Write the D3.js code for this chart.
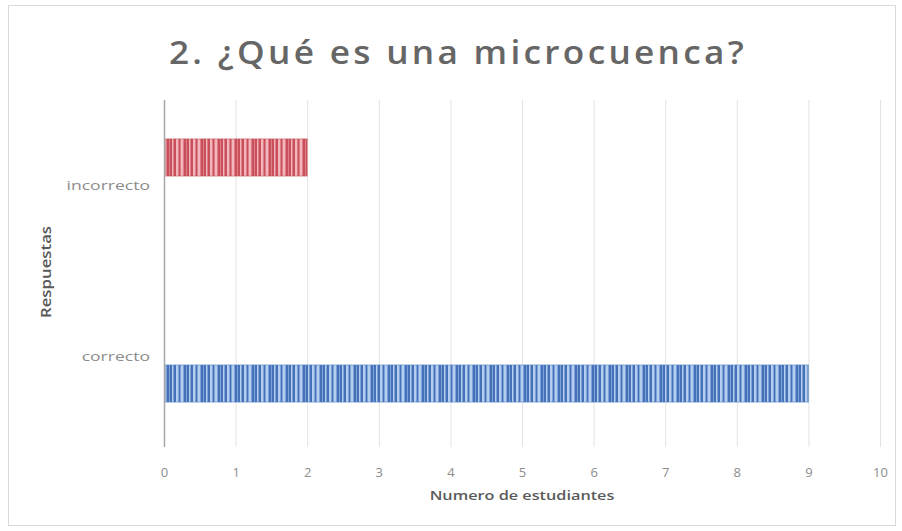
<!DOCTYPE html>
<html><head><meta charset="utf-8">
<script src="https://cdn.jsdelivr.net/npm/d3@7"></script>
<style>body{margin:0;background:#fff;} svg{display:block;}</style>
</head><body>
<svg id="chart" width="902" height="531"></svg>
<script>
const title = "2. ¿Qué es una microcuenca?";
const categories = ["incorrecto", "correcto"];
const seriesNames = ["incorrecto", "correcto"];
const valuesIncorrecto = [2, 0];
const valuesCorrecto = [0, 9];
const xTicks = [0,1,2,3,4,5,6,7,8,9,10];
const xTitle = "Numero de estudiantes";
const yTitle = "Respuestas";

const svg = d3.select("#chart");
const W = 902, H = 531;
const m = {left:164, right:22, top:100, bottom:90};
const FONT = "Open Sans, sans-serif";

svg.append("rect").attr("x",8.5).attr("y",5.5).attr("width",887).attr("height",520)
  .attr("fill","#fff").attr("stroke","#d9d9d9");

const defs = svg.append("defs");
function stripes(id, light, dark, mid) {
  const p = defs.append("pattern").attr("id",id).attr("patternUnits","userSpaceOnUse")
    .attr("width",17).attr("height",10);
  p.append("rect").attr("width",17).attr("height",10).attr("fill",mid);
  const s = [[0,2,dark],[2,1,light],[4,2,dark],[6,2,light],[9,1,dark],[11,2,light],[14,2,dark]];
  s.forEach(([x,w,c]) => p.append("rect").attr("x",x).attr("width",w).attr("height",10).attr("fill",c));
}
stripes("pRed", "#f2b7bc", "#c94f5b", "#de7e88");
stripes("pBlue", "#b5cdef", "#4571b8", "#7ea3d8");

const x = d3.scaleLinear().domain([0,10]).range([m.left, W - m.right]);
const y = d3.scaleBand().domain(categories).range([m.top, H - m.bottom]);
const yInner = d3.scaleBand().domain(seriesNames).range([0, y.bandwidth()]).paddingInner(0.33).paddingOuter(0.7);

// gridlines
svg.append("g").selectAll("line").data(xTicks.slice(1)).join("line")
  .attr("x1", d => x(d)+0.5).attr("x2", d => x(d)+0.5)
  .attr("y1", m.top).attr("y2", H - m.bottom + 6)
  .attr("stroke","#e3e3e3").attr("stroke-width",1);

const series = [
  {name:"incorrecto", values: valuesIncorrecto, fill:"url(#pRed)", stroke:"#c0504d"},
  {name:"correcto", values: valuesCorrecto, fill:"url(#pBlue)", stroke:"#4f81bd"}
];
series.forEach(s => {
  svg.append("g").selectAll("rect").data(categories.map((c,i)=>({c, v:s.values[i]})).filter(d=>d.v>0)).join("rect")
    .attr("x", x(0)+1).attr("y", d => y(d.c) + yInner(s.name))
    .attr("width", d => x(d.v) - x(0) - 1).attr("height", yInner.bandwidth())
    .attr("fill", s.fill).attr("stroke", s.stroke).attr("stroke-opacity",0.5);
});

// y axis line
svg.append("line").attr("x1", x(0)+0.5).attr("x2", x(0)+0.5).attr("y1", m.top).attr("y2", H - m.bottom + 6)
  .attr("stroke","#a6a6a6").attr("stroke-width",1.5);

// x axis labels
const xa = svg.append("g").attr("transform", `translate(0,${H - m.bottom})`)
  .call(d3.axisBottom(x).tickValues(xTicks).tickSize(0).tickPadding(27));
xa.select(".domain").remove();
xa.selectAll("text").attr("font-family",FONT).attr("font-size",13).attr("fill","#8c8c8c");

// category labels
svg.append("g").selectAll("text").data(categories).join("text")
  .attr("transform", d => `translate(${x(0)-14},${y(d) + y.bandwidth()/2 + 5}) scale(1.3,1)`)
  .attr("text-anchor","end").attr("font-family",FONT).attr("font-size",13.5)
  .attr("fill","#8c8c8c").text(d => d);

// title
svg.append("text").attr("transform","translate(458,64) scale(1.1,1)").attr("text-anchor","middle")
  .attr("font-family",FONT).attr("font-size",32).attr("font-weight",600)
  .attr("letter-spacing",3).attr("fill","#666666").text(title);

svg.append("text").attr("transform","translate(522,500) scale(1.25,1)").attr("text-anchor","middle")
  .attr("font-family",FONT).attr("font-size",13).attr("font-weight",600)
  .attr("fill","#595959").text(xTitle);

svg.append("text").attr("transform","translate(51,272) rotate(-90) scale(1.2,1)").attr("text-anchor","middle")
  .attr("font-family",FONT).attr("font-size",14).attr("font-weight",600)
  .attr("fill","#595959").text(yTitle);
</script>
</body></html>
